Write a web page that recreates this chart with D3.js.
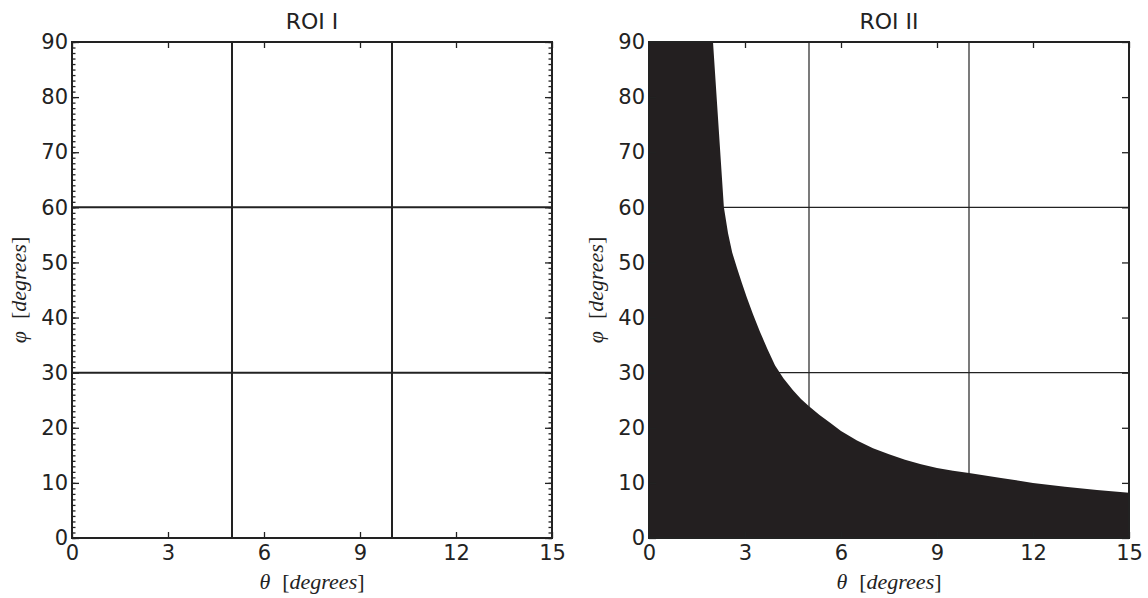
<!DOCTYPE html>
<html>
<head>
<meta charset="utf-8">
<script src="https://cdn.jsdelivr.net/npm/d3@7"></script>
<style>
  body { margin: 0; background: #fff; }
  svg text { font-family: "DejaVu Sans", sans-serif; fill: #222; }
  .tick line { stroke: #222; }
</style>
</head>
<body>
<script>
// data
const xTicks = [0, 3, 6, 9, 12, 15];
const yTicks = [0, 10, 20, 30, 40, 50, 60, 70, 80, 90];
const gridTheta = [5, 10];
const gridPhi = [30, 60];
// ROI II boundary (theta in degrees, phi in degrees)
const boundTheta = [0, 2.0, 2.34, 2.47, 2.6, 2.75, 2.9, 3.06, 3.25, 3.47, 3.7, 3.94, 4.2, 4.5, 4.75, 5.0, 5.33, 5.66, 6.0, 6.5, 7.0, 7.5, 8.0, 8.5, 9.0, 9.5, 10.0, 11.0, 12.0, 13.0, 14.0, 15.0];
const boundPhi   = [90, 90, 60, 55.3, 51.8, 49.0, 46.3, 43.6, 40.6, 37.4, 34.3, 31.3, 29.0, 26.8, 25.2, 23.9, 22.3, 20.9, 19.4, 17.7, 16.3, 15.2, 14.2, 13.4, 12.7, 12.2, 11.8, 10.9, 10.0, 9.3, 8.7, 8.2];
const titles = ["ROI I", "ROI II"];

const W = 1148, H = 598;
const svg = d3.select("body").append("svg").attr("width", W).attr("height", H);

const panels = [
  { left: 72, title: titles[0], grid: 2, minor: true, fill: false },
  { left: 649, title: titles[1], grid: 1.2, minor: false, fill: true }
];
const yTop = 42, yBottom = 538, pw = 480;

panels.forEach(p => {
  const x = d3.scaleLinear().domain([0, 15]).range([p.left, p.left + pw]);
  const y = d3.scaleLinear().domain([0, 90]).range([yBottom, yTop]);
  const g = svg.append("g");

  // grid lines
  g.selectAll(".gx").data(gridTheta).enter().append("line")
    .attr("x1", d => x(d)).attr("x2", d => x(d))
    .attr("y1", yTop).attr("y2", yBottom)
    .attr("stroke", "#222").attr("stroke-width", p.grid);
  g.selectAll(".gy").data(gridPhi).enter().append("line")
    .attr("x1", p.left).attr("x2", p.left + pw)
    .attr("y1", d => y(d)).attr("y2", d => y(d))
    .attr("stroke", "#222").attr("stroke-width", p.grid);

  if (p.fill) {
    const pts = boundTheta.map((t, i) => [t, boundPhi[i]]);
    const area = d3.area()
      .x(d => x(d[0])).y0(y(0)).y1(d => y(d[1]));
    g.append("path").datum(pts).attr("d", area).attr("fill", "#231f20");
  }

  // axes, ticks pointing inward
  g.append("g").attr("transform", `translate(0,${yBottom})`)
    .call(d3.axisBottom(x).tickValues(xTicks).tickSizeInner(-6).tickSizeOuter(0).tickPadding(7));
  g.append("g").attr("transform", `translate(0,${yTop})`)
    .call(d3.axisTop(x).tickValues(xTicks).tickSizeInner(-6).tickSizeOuter(0).tickFormat(""));
  g.append("g").attr("transform", `translate(${p.left},0)`)
    .call(d3.axisLeft(y).tickValues(yTicks).tickSizeInner(-7).tickSizeOuter(0).tickPadding(4));
  g.append("g").attr("transform", `translate(${p.left + pw},0)`)
    .call(d3.axisRight(y).tickValues(yTicks).tickSizeInner(-7).tickSizeOuter(0).tickFormat(""));
  if (p.minor) {
    g.append("g").attr("transform", `translate(${p.left},0)`)
      .call(d3.axisLeft(y).tickValues(d3.range(0, 91)).tickSizeInner(-3.5).tickSizeOuter(0).tickFormat(""));
    g.append("g").attr("transform", `translate(${p.left + pw},0)`)
      .call(d3.axisRight(y).tickValues(d3.range(0, 91)).tickSizeInner(-3.5).tickSizeOuter(0).tickFormat(""));
  }
  g.selectAll(".domain").remove();
  g.selectAll(".tick line").attr("stroke-width", 1.3);
  g.selectAll(".tick text").attr("font-size", 21).attr("font-family", "DejaVu Sans").attr("fill", "#222");

  // frame
  g.append("rect").attr("x", p.left).attr("y", yTop).attr("width", pw).attr("height", yBottom - yTop)
    .attr("fill", "none").attr("stroke", "#222").attr("stroke-width", 2);

  // title
  g.append("text").attr("x", p.left + pw / 2).attr("y", 29)
    .attr("text-anchor", "middle").attr("font-size", 22).text(p.title);

  // axis labels
  const xl = g.append("text").attr("x", p.left + pw / 2).attr("y", 589)
    .attr("text-anchor", "middle").attr("font-size", 22)
    .style("font-family", "'Liberation Serif', serif").style("font-style", "italic");
  xl.append("tspan").text("θ");
  xl.append("tspan").attr("dx", 12).style("font-style", "normal").text("[");
  xl.append("tspan").text("degrees");
  xl.append("tspan").style("font-style", "normal").text("]");

  const yl = g.append("text")
    .attr("transform", `translate(${p.left - 46},${(yTop + yBottom) / 2}) rotate(-90)`)
    .attr("text-anchor", "middle").attr("font-size", 22)
    .style("font-family", "'Liberation Serif', serif").style("font-style", "italic");
  yl.append("tspan").text("φ");
  yl.append("tspan").attr("dx", 12).style("font-style", "normal").text("[");
  yl.append("tspan").text("degrees");
  yl.append("tspan").style("font-style", "normal").text("]");
});
</script>
</body>
</html>
